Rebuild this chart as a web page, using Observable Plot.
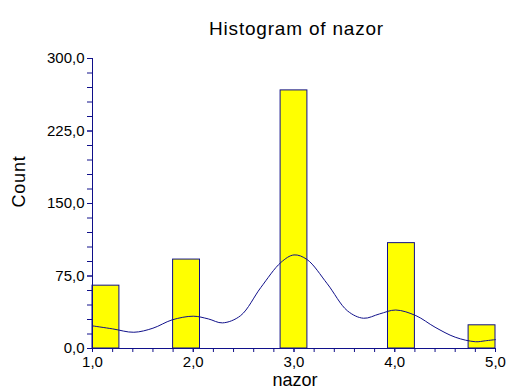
<!DOCTYPE html>
<html>
<head>
<meta charset="utf-8">
<script src="https://cdn.jsdelivr.net/npm/d3@7"></script>
<script src="https://cdn.jsdelivr.net/npm/@observablehq/plot@0.6"></script>
<style>
  html, body { margin: 0; padding: 0; background: #fff; }
  #chart svg { display: block; }
  #chart svg .spaced, #chart svg .spaced text { letter-spacing: 0.8px; }
</style>
</head>
<body>
<div id="chart"></div>
<script>
// Histogram bins of nazor (left edge, right edge, count)
const binStart = [1.0, 1.8, 2.867, 3.933, 4.733];
const binEnd   = [1.267, 2.067, 3.133, 4.2, 5.0];
const counts   = [65, 92, 267, 109, 24];

// Density curve scaled to counts
const curveX = [1.0, 1.2, 1.41, 1.6, 1.79, 2.0, 2.15, 2.29, 2.47, 2.67, 2.87, 3.0, 3.13, 3.33, 3.53, 3.69, 3.85, 4.01, 4.21, 4.4, 4.6, 4.8, 4.9, 5.0];
const curveY = [23.4, 20.3, 16.8, 21, 29.6, 33.4, 30.6, 26.5, 34, 63, 89, 96.8, 92, 67, 39, 31.3, 35.8, 39.8, 34, 22, 11.7, 7, 8, 9.2];

// Axis ticks
const yTicks = [0, 75, 150, 225, 300];
const xTicks = [1, 2, 3, 4, 5];
const yMinor = d3.range(0, 301, 15);
const xMinor = d3.range(1, 5.001, 0.2);

const bins = counts.map((c, i) => ({x1: binStart[i], x2: binEnd[i], count: c}));
const curve = curveX.map((x, i) => ({x, y: curveY[i]}));

const navy = "#10108a";
const fmt = d => d3.format(".1f")(d).replace(".", ",");

const chart = Plot.plot({
  width: 508,
  height: 392,
  marginLeft: 92,
  marginRight: 13,
  marginTop: 58,
  marginBottom: 44,
  style: {fontFamily: "Liberation Sans, Arial, sans-serif", background: "#fff", color: "black"},
  x: {domain: [1, 5], axis: null},
  y: {domain: [0, 300], axis: null},
  marks: [
    Plot.rectY(bins, {x1: "x1", x2: "x2", y1: 0, y2: "count", fill: "#ffff00", stroke: navy, strokeWidth: 1}),
    Plot.line(curve, {x: "x", y: "y", stroke: navy, strokeWidth: 1, curve: "catmull-rom"}),
    Plot.ruleX([1], {stroke: navy}),
    Plot.ruleY([0], {stroke: navy}),
    Plot.axisY(yMinor, {tickSize: 5, stroke: navy, tickFormat: () => "", label: null}),
    Plot.axisY(yTicks, {tickSize: 5, tickPadding: 3, stroke: navy, fill: "black", fontSize: 15, tickFormat: fmt, label: null}),
    Plot.axisX(xMinor, {tickSize: 4, stroke: navy, tickFormat: () => "", label: null}),
    Plot.axisX(xTicks, {tickSize: 4, tickPadding: 4, stroke: navy, fill: "black", fontSize: 15, tickFormat: fmt, label: null}),
    Plot.text(["Histogram of nazor"], {frameAnchor: "top", dx: 2.5, dy: -37, fontSize: 19, fill: "black", className: "spaced"}),
    Plot.text(["nazor"], {frameAnchor: "bottom", dx: 1, dy: 37, fontSize: 18, fill: "black"}),
    Plot.text(["Count"], {frameAnchor: "left", dx: -73, dy: 4, rotate: -90, fontSize: 18, fill: "black", className: "spaced"})
  ]
});

document.getElementById("chart").appendChild(chart);
</script>
</body>
</html>
